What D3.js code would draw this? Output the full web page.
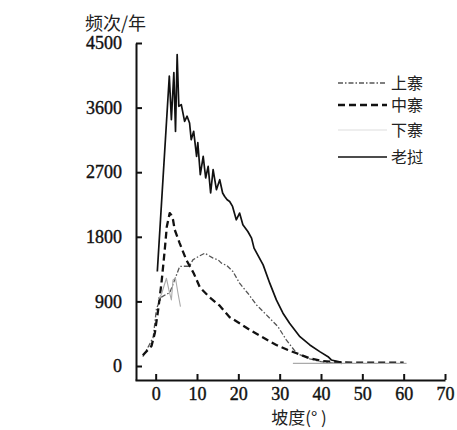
<!DOCTYPE html>
<html><head><meta charset="utf-8">
<script src="https://cdn.jsdelivr.net/npm/d3@7"></script>
<style>body{margin:0;background:#fff}</style>
</head><body>
<svg id="c" width="457" height="430"></svg>
<script>
const xTicks = [0,10,20,30,40,50,60,70];
const yTicks = [0,900,1800,2700,3600,4500];
const seriesNames = ["上寨","中寨","下寨","老挝"];
// [slope(°), frequency]
const shangzhai = [[-3.1,130],[-1.5,300],[-0.6,400],[0.2,800],[1.4,960],[2.6,1000],[3.4,1020],[4.6,1200],[5.8,1386],[6.6,1390],[8.2,1390],[9.0,1479],[10.5,1530],[11.9,1572],[12.8,1540],[13.9,1503],[15.1,1480],[15.9,1433],[17.2,1400],[18.7,1316],[20.3,1154],[22.3,1014],[24.4,851],[26.8,712],[29.6,548],[31.6,363],[34.1,177],[37.3,100],[40,60],[43,40],[45,35]];
const zhongzhai = [[-3.1,150],[-1.0,280],[-0.2,460],[0.6,781],[1.4,1154],[2.2,1619],[2.7,1944],[3.4,2131],[3.8,2100],[4.2,2037],[4.6,1900],[5.8,1712],[7.4,1480],[9.2,1293],[10.7,1095],[13.1,956],[15.5,840],[17.9,680],[19.9,610],[22.8,502],[25.6,409],[29.2,293],[32.0,223],[34.1,177],[37.3,107],[40.4,70],[45,50],[50,45],[55,45],[60,45]];
const xiazhai = [[0.6,921],[1.4,1000],[2.6,1223],[3.2,1060],[3.8,921],[4.2,1200],[4.8,1223],[5.4,1014],[6.0,827],[null,null],[33.2,37],[40,37],[50,37],[60.7,37]];
const laowo = [[0.4,1316],[3.3,4040],[3.8,3432],[4.4,4088],[4.8,3269],[5.2,4339],[5.6,3618],[6.2,3642],[7.0,3409],[7.6,3480],[8.2,3386],[8.6,3153],[9.2,3269],[9.9,2920],[10.2,3111],[10.8,2665],[11.5,2920],[12.1,2619],[12.7,2781],[13.3,2410],[13.9,2735],[14.7,2456],[15.5,2595],[16.2,2410],[16.7,2362],[17.3,2316],[17.9,2292],[18.6,2223],[19.5,2037],[20.3,2131],[21.1,1967],[22.3,1874],[23.2,1782],[23.8,1642],[26.0,1409],[27.6,1154],[29.2,921],[30.8,735],[32.4,596],[34.9,409],[37.3,293],[39.7,200],[41.7,130],[42.5,84],[45,50]];

const svg = d3.select("#c");
const x = d3.scaleLinear().domain([-5,70]).range([135,445]);
const y = d3.scaleLinear().domain([-195,4500]).range([380,43]);
const serif = "'Liberation Serif','Times New Roman',serif";
const cjk = "'Noto Sans CJK SC',sans-serif";

// axes
const xAxis = svg.append("g").attr("transform","translate(0,380)")
  .call(d3.axisBottom(x).tickValues(xTicks).tickFormat(d3.format("d")).tickSizeInner(-6).tickSizeOuter(0).tickPadding(7));
const yAxis = svg.append("g").attr("transform","translate(136,0)")
  .call(d3.axisLeft(y).tickValues(yTicks).tickFormat(d3.format("d")).tickSizeInner(-6).tickSizeOuter(0).tickPadding(14));
[xAxis,yAxis].forEach(a=>{
  a.select(".domain").attr("stroke","#111").attr("stroke-width",2);
  a.selectAll(".tick line").attr("stroke","#111").attr("stroke-width",2);
  a.selectAll(".tick text").attr("font-family",serif).attr("font-size",18).attr("fill","#111")
    .attr("stroke","#111").attr("stroke-width",0.4);
});
xAxis.selectAll(".tick text").attr("dy","0.71em");
yAxis.selectAll(".tick text").attr("dy","0.32em");

const line = d3.line().defined(d=>d[0]!==null).x(d=>x(d[0])).y(d=>y(d[1]));
const styles = [
  {data:shangzhai, stroke:"#555", w:1.3, dash:"5,2,1.5,2"},
  {data:zhongzhai, stroke:"#111", w:2.3, dash:"7,4"},
  {data:xiazhai, stroke:"#aaa", w:1.1, dash:null},
  {data:laowo, stroke:"#111", w:1.7, dash:null}
];
styles.forEach(s=>{
  svg.append("path").datum(s.data).attr("d",line).attr("fill","none")
    .attr("stroke",s.stroke).attr("stroke-width",s.w)
    .attr("stroke-dasharray",s.dash).attr("stroke-linejoin","round");
});

// titles
svg.append("text").attr("x",85).attr("y",30).attr("font-family",cjk).attr("font-size",18).attr("fill","#222").text("频次/年");
svg.append("text").attr("x",299).attr("y",424).attr("text-anchor","middle").attr("font-family",cjk).attr("font-size",17).attr("fill","#222").text("坡度(°  )");

// legend
const ly = [83,105,130,157];
seriesNames.forEach((n,i)=>{
  const s = styles[i];
  const g = svg.append("g");
  g.append("line").attr("x1",338).attr("x2",387).attr("y1",ly[i]).attr("y2",ly[i])
    .attr("stroke", i===2 ? "#ddd" : s.stroke).attr("stroke-width", s.w).attr("stroke-dasharray", s.dash);
  g.append("text").attr("x",391).attr("y",ly[i]).attr("dy","0.35em").attr("font-family",cjk)
    .attr("font-size",16).attr("fill","#222").text(n);
});
</script>
</body></html>
